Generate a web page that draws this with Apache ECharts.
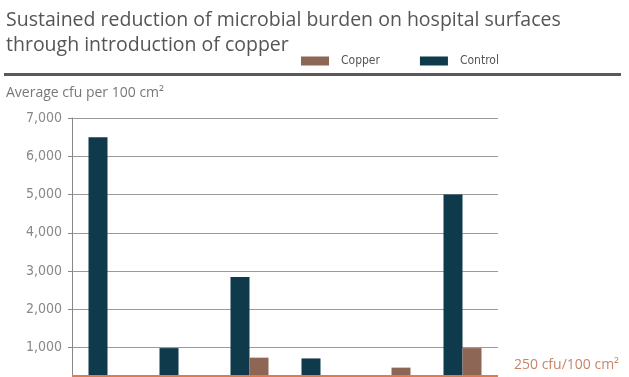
<!DOCTYPE html>
<html>
<head>
<meta charset="utf-8">
<script src="https://cdn.jsdelivr.net/npm/echarts@6/dist/echarts.min.js"></script>
<style>
  html, body { margin: 0; padding: 0; background: #fff; overflow: hidden; width: 629px; height: 377px; }
  #chart { width: 629px; height: 395px; }
</style>
</head>
<body>
<div id="chart"></div>
<script>
const categories = ['A', 'B', 'C', 'D', 'E', 'F'];
const controlValues = [6500, 990, 2850, 720, 100, 5000];
const copperValues = [200, 150, 740, 150, 480, 990];
const yTicks = [1000, 2000, 3000, 4000, 5000, 6000, 7000];
const thresholdValue = 250;
const thresholdLabel = '250 cfu/100 cm\u00B2';
const titleLines = ['Sustained reduction of microbial burden on hospital surfaces', 'through introduction of copper'];
const yAxisName = 'Average cfu per 100 cm\u00B2';

const chart = echarts.init(document.getElementById('chart'), null, { renderer: 'canvas' });
const narrow = '"Liberation Sans Narrow", "DejaVu Sans Condensed", "Open Sans", sans-serif';
const option = {
  animation: false,
  backgroundColor: '#ffffff',
  title: {
    text: titleLines.join('\n'),
    left: 1, top: 3,
    textStyle: { fontFamily: '"Open Sans", sans-serif', fontSize: 19.5, fontWeight: 'normal', color: '#555555', lineHeight: 25 }
  },
  legend: {
    data: ['Copper', 'Control'],
    left: 296, top: 50,
    itemWidth: 28, itemHeight: 9, itemGap: 40,
    icon: 'rect',
    textStyle: { fontFamily: narrow, fontSize: 12, color: '#555', padding: [0, 0, 0, 7] }
  },
  grid: { left: 72, right: 131, top: 118, bottom: 9, containLabel: false },
  xAxis: {
    type: 'category',
    data: categories,
    axisLine: { show: false },
    axisTick: { show: false },
    axisLabel: { show: false }
  },
  yAxis: {
    type: 'value',
    min: 0, max: 7000, interval: 1000,
    axisLine: { show: true, lineStyle: { color: '#888', width: 1 } },
    axisTick: { show: true, length: 4, lineStyle: { color: '#888' } },
    axisLabel: {
      margin: 10,
      fontFamily: narrow, fontSize: 14, color: '#888',
      formatter: v => yTicks.indexOf(v) >= 0 ? v.toLocaleString('en-US') : ''
    },
    splitLine: { show: true, lineStyle: { color: '#9a9a9a', width: 1 } }
  },
  series: [
    {
      name: 'Control', type: 'bar', data: controlValues,
      barWidth: 19, barGap: '0%',
      itemStyle: { color: '#0e3a4b' },
      z: 2
    },
    {
      name: 'Copper', type: 'bar', data: copperValues,
      barWidth: 19, barGap: '0%',
      itemStyle: { color: '#8d6656' },
      z: 2,
      markLine: {
        symbol: 'none', silent: true,
        lineStyle: { color: '#e07b4e', width: 3, type: 'solid' },
        label: { show: false },
        data: [{ yAxis: thresholdValue }],
        z: 5
      }
    }
  ],
  graphic: [
    { type: 'rect', shape: { x: 4, y: 73, width: 617, height: 3 }, style: { fill: '#595959' } },
    { type: 'text', left: 6, top: 86, style: { text: yAxisName, font: '14px "Open Sans", sans-serif', fill: '#777' } },
    { type: 'text', left: 514, top: 358, style: { text: thresholdLabel, font: '14px "Open Sans", sans-serif', fill: '#c98468' } }
  ]
};
chart.setOption(option);
</script>
</body>
</html>
